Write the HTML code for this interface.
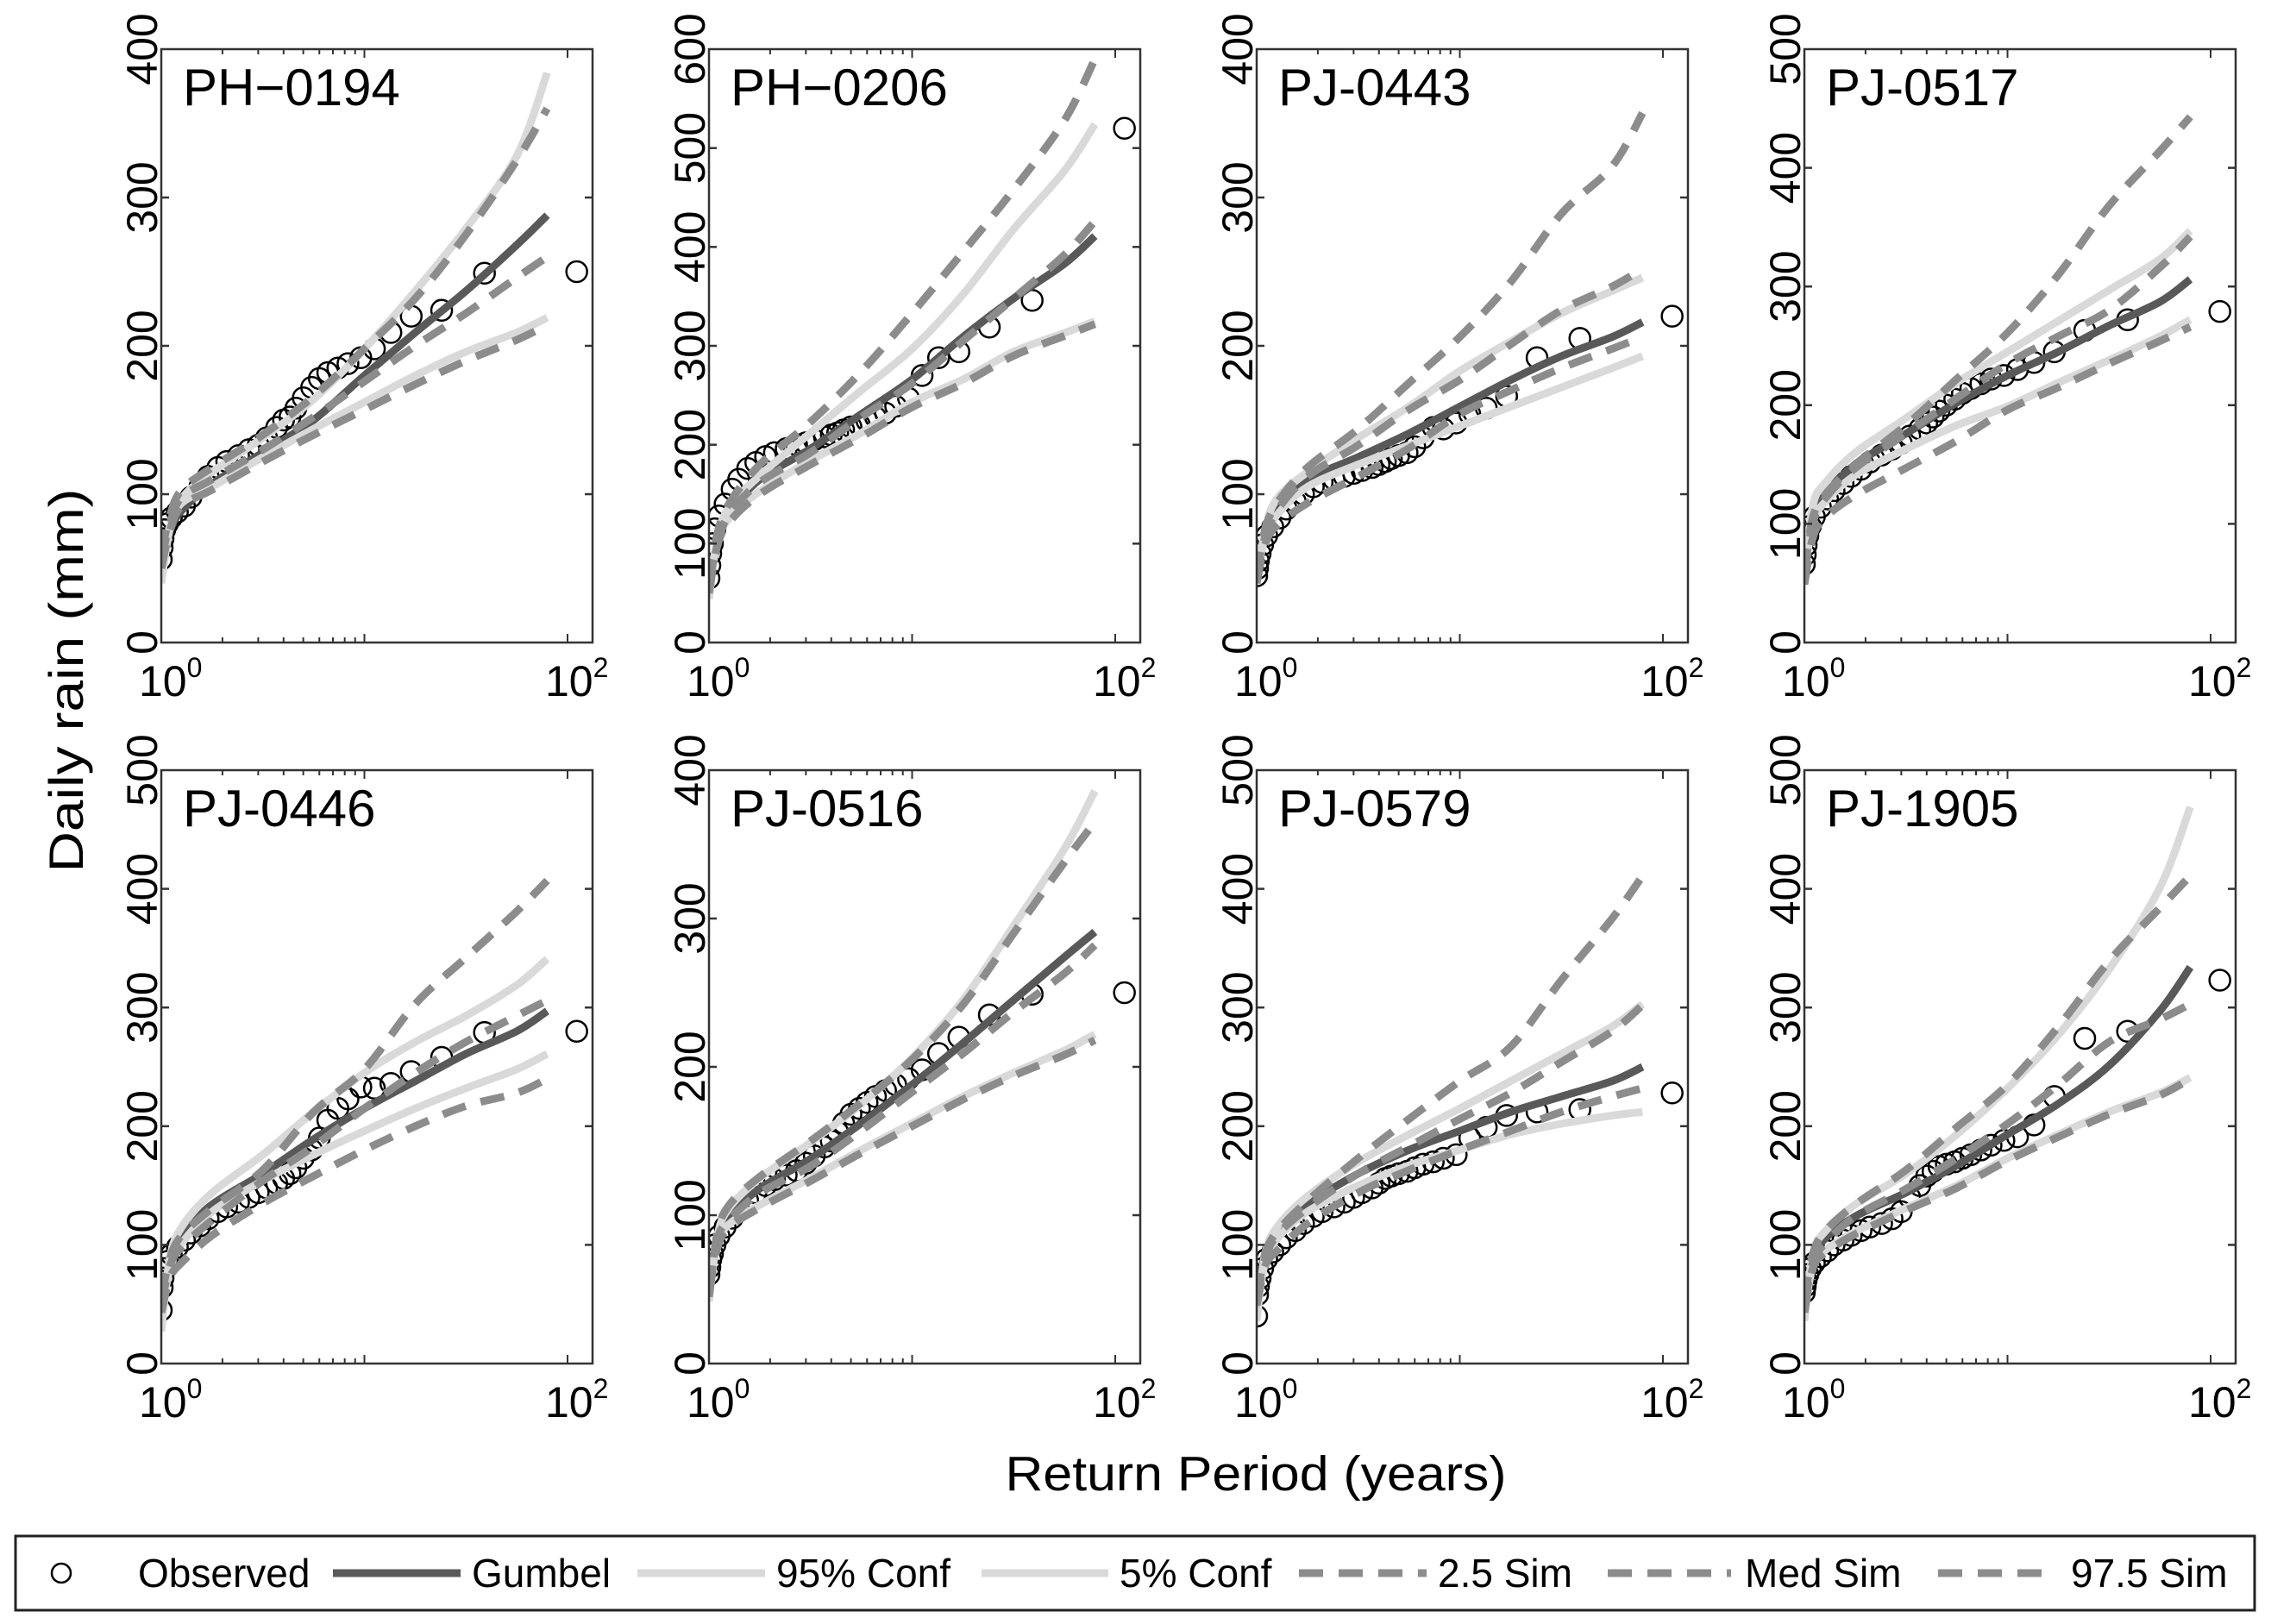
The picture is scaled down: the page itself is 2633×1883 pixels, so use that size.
<!DOCTYPE html>
<html><head><meta charset="utf-8"><title>Return period plots</title>
<style>
html,body{margin:0;padding:0;background:#fff;}
svg{display:block;font-family:"Liberation Sans",Arial,sans-serif;}
</style></head>
<body>
<svg id="fig" width="2633" height="1883" viewBox="0 0 2633 1883" xmlns="http://www.w3.org/2000/svg">
<rect x="0" y="0" width="2633" height="1883" fill="#fff"/>
<text transform="translate(96,789) rotate(-90)" text-anchor="middle" font-size="56" fill="#000" textLength="445" lengthAdjust="spacingAndGlyphs">Daily rain (mm)</text>
<text x="1456" y="1728" text-anchor="middle" font-size="57" fill="#000" textLength="581" lengthAdjust="spacingAndGlyphs">Return Period (years)</text>
<g id="panels"></g>
<g>
<rect x="18" y="1781" width="2596" height="86" fill="#fff" stroke="#222" stroke-width="3"/>
<circle cx="71" cy="1824" r="11" fill="none" stroke="#000" stroke-width="2.5"/>
<text x="160" y="1840" font-size="46">Observed</text>
<line x1="386" y1="1824" x2="534" y2="1824" stroke="#595959" stroke-width="9"/>
<text x="547" y="1840" font-size="46">Gumbel</text>
<line x1="739" y1="1824" x2="887" y2="1824" stroke="#d9d9d9" stroke-width="9"/>
<text x="900" y="1840" font-size="46">95% Conf</text>
<line x1="1138" y1="1824" x2="1285" y2="1824" stroke="#d9d9d9" stroke-width="9"/>
<text x="1298" y="1840" font-size="46">5% Conf</text>
<line x1="1506" y1="1824" x2="1654" y2="1824" stroke="#8c8c8c" stroke-width="9" stroke-dasharray="28 18"/>
<text x="1667" y="1840" font-size="46">2.5 Sim</text>
<line x1="1864" y1="1824" x2="2007" y2="1824" stroke="#8c8c8c" stroke-width="9" stroke-dasharray="28 18"/>
<text x="2023" y="1840" font-size="46">Med Sim</text>
<line x1="2247" y1="1824" x2="2384" y2="1824" stroke="#8c8c8c" stroke-width="9" stroke-dasharray="28 18"/>
<text x="2401" y="1840" font-size="46">97.5 Sim</text>
</g>
</svg>
<script>
const stations = ["PH\u22120194","PH\u22120206","PJ-0443","PJ-0517","PJ-0446","PJ-0516","PJ-0579","PJ-1905"];
const yMaxes = [400,600,400,500,500,400,500,500];
const periodsT = [1,1.1,1.26,1.78,3.16,5.62,10,17.8,31.6,56.2,79.4];
const gumbel = [
[55,75,89,107,128,150,180,209,237,268,288],
[59,98,130,165,196,231,266,309,348,383,411],
[45,73,92,110,125,141,159,177,193,206,216],
[72,108,124,150,176,202,225,245,267,287,306],
[49,85,108,134,160,189,215,238,261,280,297],
[50,84,99,118,138,162,188,216,245,274,291],
[56,92,111,134,160,180,196,212,225,238,250],
[49,88,105,124,144,167,193,219,251,297,334]];
const conf95 = [
[40,76,97,115,138,164,198,237,279,328,384],
[44,106,137,169,212,255,297,352,418,477,524],
[40,76,97,115,138,159,183,203,222,237,246],
[56,115,134,160,189,219,245,271,297,323,347],
[27,88,115,144,176,212,245,271,293,319,341],
[42,86,105,125,149,175,206,245,295,347,386],
[36,92,115,141,170,193,215,238,261,284,303],
[36,92,111,134,160,193,232,277,332,401,469]];
const conf5 = [
[50,78,94,105,125,144,162,180,196,209,219],
[52,102,126,153,184,212,243,266,294,313,325],
[45,71,86,105,120,133,146,159,172,185,193],
[56,101,118,141,163,183,199,219,238,258,272],
[40,79,101,128,154,176,196,215,232,248,261],
[47,81,94,107,125,144,162,180,196,211,222],
[43,85,105,128,150,167,180,193,202,209,212],
[43,82,95,111,131,150,173,193,212,228,241]];
const sim25 = [
[50,75,92,103,122,140,157,174,190,204,214],
[50,98,122,150,180,208,238,262,290,310,322],
[40,66,79,94,112,131,154,170,185,198,206],
[49,88,105,124,147,170,196,215,235,254,266],
[43,72,85,108,135,158,180,200,217,228,240],
[47,78,92,105,123,142,160,178,194,208,218],
[49,82,95,118,144,163,180,196,212,225,232],
[43,80,93,109,129,148,171,191,210,226,240]];
const simMed = [
[55,80,98,110,130,152,176,200,222,246,260],
[60,100,130,162,192,228,262,305,348,392,426],
[42,71,89,112,133,157,177,201,224,240,252],
[56,101,121,147,176,206,235,258,280,316,342],
[49,82,98,121,154,183,215,245,271,293,306],
[50,84,97,115,133,157,183,209,237,263,282],
[53,88,108,131,160,183,206,228,254,280,302],
[49,85,101,124,147,173,202,235,271,290,303]];
const sim975 = [
[60,85,103,118,140,166,198,232,275,325,360],
[59,110,141,180,223,274,333,395,458,528,590],
[45,76,94,118,144,175,206,243,289,321,357],
[59,105,124,150,183,222,261,310,368,414,443],
[56,88,108,131,163,212,248,303,342,381,407],
[45,88,107,126,150,176,205,242,290,338,365],
[56,92,111,137,173,206,238,267,323,375,411],
[53,92,111,134,163,199,235,284,339,384,411]];
const obsT = [111,39,24,17,13.5,11.2,9.6,8.3,7.4,6.6,6.0,5.5,5.0,4.6,4.3,4.0,3.7,3.3,3.0,2.7,2.4,2.1,1.9,1.7,1.55,1.4,1.3,1.2,1.12,1.07,1.04,1.02,1.01,1.0];
const observed = [
[250,249,224,220,209,198,192,188,185,182,178,172,165,158,152,150,145,138,133,130,126,122,118,112,105,98,92,88,84,80,76,70,64,56],
[520,346,319,294,288,270,247,239,232,228,224,220,218,215,212,210,208,205,202,200,196,192,188,182,176,165,155,140,128,115,100,90,78,65],
[220,205,192,166,158,154,148,144,145,138,132,128,126,124,122,120,118,116,114,112,110,108,105,100,95,90,84,78,72,66,60,55,50,45],
[279,272,263,245,236,230,225,222,218,214,210,205,200,195,190,185,180,174,168,163,158,152,146,140,134,128,121,114,106,98,90,82,74,66],
[280,279,258,246,236,232,233,223,215,205,190,180,173,165,160,156,152,148,144,140,136,132,128,122,116,110,104,98,92,86,80,72,64,45],
[250,249,235,220,209,198,192,188,184,180,176,172,168,162,156,150,146,140,135,130,127,124,120,115,110,104,98,92,86,80,74,70,65,60],
[228,214,212,209,199,190,176,173,170,168,165,162,160,158,156,152,148,144,140,136,132,128,124,118,112,106,100,94,88,80,72,65,58,40],
[323,280,274,225,201,191,188,184,180,176,173,170,168,166,162,158,150,140,128,122,118,115,112,108,104,100,95,90,85,80,75,70,65,60]];
const xTickDecades = [0,2];
const minorTicks = [2,3,4,5,6,7,8,9,10];

const NS = "http://www.w3.org/2000/svg";
const PW = 500, PH = 688, DEC = 235.5;
function mk(tag, attrs, parent){ const e=document.createElementNS(NS,tag); for(const k in attrs) e.setAttribute(k,attrs[k]); parent.appendChild(e); return e; }
function smoothPath(pts){
  let d = "M"+pts[0][0].toFixed(1)+","+pts[0][1].toFixed(1);
  for(let i=0;i<pts.length-1;i++){
    const p0=pts[Math.max(0,i-1)], p1=pts[i], p2=pts[i+1], p3=pts[Math.min(pts.length-1,i+2)];
    const c1=[p1[0]+(p2[0]-p0[0])/6, p1[1]+(p2[1]-p0[1])/6];
    const c2=[p2[0]-(p3[0]-p1[0])/6, p2[1]-(p3[1]-p1[1])/6];
    d+=" C"+c1[0].toFixed(1)+","+c1[1].toFixed(1)+" "+c2[0].toFixed(1)+","+c2[1].toFixed(1)+" "+p2[0].toFixed(1)+","+p2[1].toFixed(1);
  }
  return d;
}
const root = document.getElementById("panels");
const seriesDefs = [
  {arr:gumbel, name:"gumbel-line", stroke:"#595959", dash:null},
  {arr:conf95, name:"conf-95-line", stroke:"#d9d9d9", dash:null},
  {arr:conf5, name:"conf-5-line", stroke:"#d9d9d9", dash:null},
  {arr:sim25, name:"sim-2.5-line", stroke:"#8c8c8c", dash:"28 18"},
  {arr:simMed, name:"sim-med-line", stroke:"#8c8c8c", dash:"28 18"},
  {arr:sim975, name:"sim-97.5-line", stroke:"#8c8c8c", dash:"28 18"}
];
for(let p=0;p<stations.length;p++){
  const col=p%4, row=Math.floor(p/4);
  const L=187+635*col, T=57+836*row, B=T+PH, R=L+PW;
  const ymax=yMaxes[p];
  const xs = t => L + Math.log10(t)*DEC;
  const ys = v => B - v/ymax*PH;
  const g = mk("g",{},root);
  
  
  const cp = mk("clipPath",{id:"clip"+p},g);
  mk("rect",{x:L,y:T,width:PW,height:PH},cp);
  const plot = mk("g",{"clip-path":"url(#clip"+p+")"},g);
  for(let i=0;i<obsT.length;i++){
    const c = mk("circle",{cx:xs(obsT[i]),cy:ys(observed[p][i]),r:12,fill:"none",stroke:"#000","stroke-width":2.5},plot);
    
    
  }
  for(const s of seriesDefs){
    const pts = periodsT.map((t,i)=>[xs(t), ys(s.arr[p][i])]);
    const a = {d:smoothPath(pts),fill:"none",stroke:s.stroke,"stroke-width":9};
    if(s.dash) a["stroke-dasharray"]=s.dash;
    const path = mk("path",a,plot);
    
    
  }
  for(let v=100; v<ymax; v+=100){
    mk("line",{x1:L,y1:ys(v),x2:L+9,y2:ys(v),stroke:"#333","stroke-width":2.5},g);
    mk("line",{x1:R,y1:ys(v),x2:R-9,y2:ys(v),stroke:"#333","stroke-width":2.5},g);
  }
  for(let v=0; v<=ymax; v+=100){
    const t = mk("text",{transform:"translate("+(L-5)+","+ys(v)+") rotate(-90)","text-anchor":"middle","font-size":50,fill:"#000"},g);
    t.textContent = String(v);
    
    
  }
  for(const m of minorTicks.concat([100])){
    const x = xs(m), len = (m===10||m===100)?10:6;
    mk("line",{x1:x,y1:B,x2:x,y2:B-len,stroke:"#333","stroke-width":2},g);
    mk("line",{x1:x,y1:T,x2:x,y2:T+len,stroke:"#333","stroke-width":2},g);
  }
  for(const d of xTickDecades){
    const x = xs(Math.pow(10,d));
    const t = mk("text",{x:x-26,y:B+62,"font-size":50,fill:"#000"},g);
    
    
    t.appendChild(document.createTextNode("10"));
    const sup = mk("tspan",{"font-size":32,dy:-22},t);
    sup.textContent = String(d);
  }
  mk("rect",{x:L,y:T,width:PW,height:PH,fill:"none",stroke:"#333","stroke-width":2.5},g);
  const title = mk("text",{x:L+25,y:T+65,"font-size":60,fill:"#000"},g);
  title.textContent = stations[p];
  
  
}
</script>
</body></html>
